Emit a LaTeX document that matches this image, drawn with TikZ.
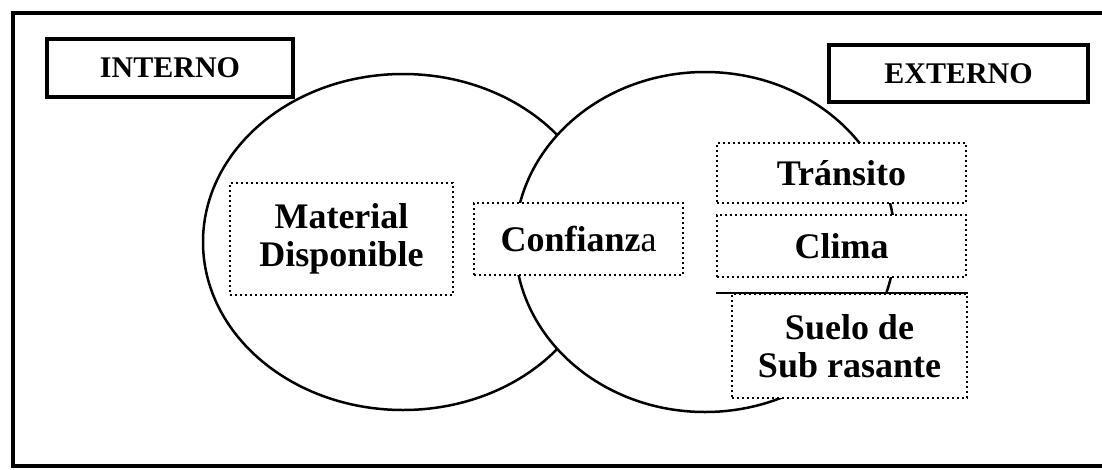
\documentclass[tikz,border=0pt]{standalone}
\usepackage{fontspec}
\setmainfont{Liberation Serif}
\usepackage{tikz}

\tikzset{
  titlebox/.style={draw, line width=3.2pt, fill=white, inner sep=0pt,
    font=\fontsize{30}{32}\selectfont\bfseries},
  factorbox/.style={draw, line width=2.4pt, dash pattern=on 2.2pt off 2.8pt,
    fill=white, inner sep=0pt, align=center,
    font=\fontsize{36}{38}\selectfont\bfseries},
}

\begin{document}
\begin{tikzpicture}[x=1pt,y=1pt,yscale=-1]
	%set diagram size to 1102 x 469
	\useasboundingbox (0,0) rectangle (1102,469);

	%Shape: Frame (right side runs off the page)
	\draw [line width=3.5pt] (1108,13) -- (13,13) -- (13,466) -- (1108,466) ;

	%Shape: Ellipse (interno)
	\draw [line width=2.5pt] (403,242) ellipse [x radius=200, y radius=168] ;
	%Shape: Ellipse (externo), filled so it hides the inner arc
	\draw [line width=2.5pt, fill=white] (705,242) ellipse [x radius=190, y radius=170] ;

	%Title boxes
	\node [titlebox, minimum width=246, minimum height=58] (interno) at (170,68) {INTERNO};
	\node [titlebox, minimum width=259, minimum height=57] (externo) at (958.5,73.5) {EXTERNO};

	%Factor boxes
	\node [factorbox, minimum width=223, minimum height=112] (material) at (341.5,239) {Material\\Disponible};
	\node [factorbox, minimum width=209, minimum height=72] (confianza) at (578.5,239) {Confianz{\mdseries a}};
	\node [factorbox, minimum width=249, minimum height=60] (transito) at (841.5,173) {Tránsito};
	\node [factorbox, minimum width=249, minimum height=62] (clima) at (841.5,246) {Clima};
	\node [factorbox, minimum width=235, minimum height=104] (suelo) at (849.5,346) {Suelo de\\Sub rasante};

	%Straight Lines over the top of suelo
	\draw [line width=1.6pt] (clima.west |- suelo.north) -- (suelo.north east) ;

\end{tikzpicture}
\end{document}
